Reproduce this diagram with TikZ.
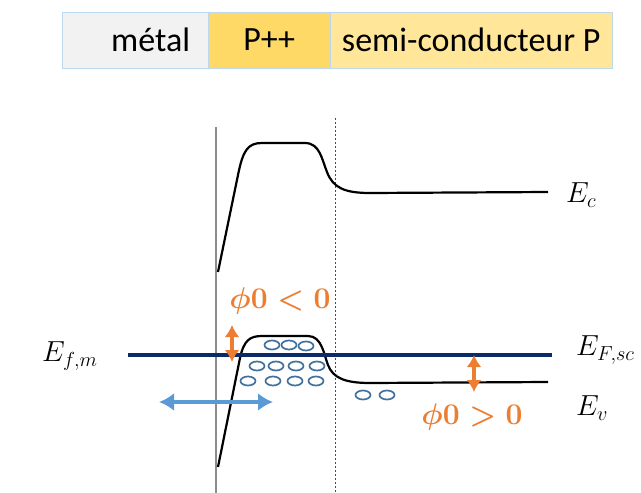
\RequirePackage{fix-cm}
\documentclass[tikz,border=0pt]{standalone}
\usepackage{amsmath}
\usepackage{fontspec}
\setsansfont{Carlito}
\usetikzlibrary{arrows.meta}
\definecolor{navy}{HTML}{0C2A6A}
\definecolor{orng}{HTML}{ED7D31}
\definecolor{skyb}{HTML}{5B9BD5}
\definecolor{holeblue}{HTML}{41719C}
\definecolor{cellgray}{HTML}{F2F2F2}
\definecolor{ppgold}{HTML}{FFD966}
\definecolor{pyellow}{HTML}{FFE699}
\definecolor{edge}{HTML}{BDD7EE}

\begin{document}
\begin{tikzpicture}[x=1pt,y=-1pt,cell/.style={draw=edge,anchor=west,minimum height=56pt,inner sep=0pt,font=\sffamily\fontsize{34}{40}\selectfont},lab/.style={anchor=west,inner sep=0pt,font=\fontsize{29}{34}\selectfont},phi/.style={inner sep=0pt,text=orng,font=\fontsize{30}{36}\selectfont\boldmath},band/.style={line width=2.2pt,line join=round},dbl/.style={{Latex[length=12pt,width=15pt]}-{Latex[length=12pt,width=15pt]},line width=3.6pt,draw=orng},hole/.style={draw=holeblue,line width=1.7pt}]
\useasboundingbox (0,0) rectangle (641,493);
% bandeau du haut
\node[cell,fill=cellgray,minimum width=146pt,text width=110pt,align=right] (metal) at (62,40) {métal};
\node[cell,fill=ppgold,minimum width=122pt] (ppp) at (208,40) {P++};
\node[cell,fill=pyellow,minimum width=282pt] (semi) at (330,40) {semi-conducteur P};
% interfaces
\draw[black!45,line width=1.2pt] (216,127) -- (216,493);
\draw[black!70,line width=0.8pt,dash pattern=on 2pt off 2pt] (335,118) -- (335,493);
% bandes
\draw[band] (218,272) -- (238,175) .. controls (243,150) and (248,143) .. (262,143) -- (305,143) .. controls (320,143) and (322,160) .. (327,172) .. controls (333,188) and (345,193) .. (370,193) -- (548,192);
\draw[band] (218,467) -- (240,358) .. controls (244,340) and (250,336) .. (262,336) -- (308,336) .. controls (322,336) and (324,355) .. (328,365) .. controls (333,378) and (345,383) .. (370,383) -- (548,382);
\coordinate (efl) at (128,355);
\coordinate (efr) at (552,355);
\draw[navy,line width=4.5pt] (efl) -- (efr);
% trous
\foreach \x/\y in {272/345,289/345,306/346,257/366,276/366,296/366,317/366,248/381,273/381,295/381,316/381,363/395,387/395}
  \draw[hole] (\x,\y) ellipse[x radius=7.5,y radius=4.5];
% fleches
\coordinate (phiatop) at (232,325);
\coordinate (phiabot) at (232,362);
\coordinate (phibtop) at (474,355);
\coordinate (phibbot) at (474,392);
\coordinate (injl) at (159,402);
\coordinate (injr) at (273,402);
\draw[dbl] (phiatop) -- (phiabot);
\draw[dbl] (phibtop) -- (phibbot);
\draw[{Latex[length=15pt,width=18pt]}-{Latex[length=15pt,width=18pt]},skyb,line width=4.2pt] (injl) -- (injr);
% etiquettes
\node[lab] (ec) at (566,195) {$E_c$};
\node[lab] (efsc) at (576,350) {$E_{F,sc}$};
\node[lab] (ev) at (576,408) {$E_v$};
\node[lab] (efm) at (42,356) {$E_{f,m}$};
\node[phi] (phineg) at (280,301) {$\phi 0<0$};
\node[phi] (phipos) at (472,417) {$\phi 0>0$};
\end{tikzpicture}
\end{document}
